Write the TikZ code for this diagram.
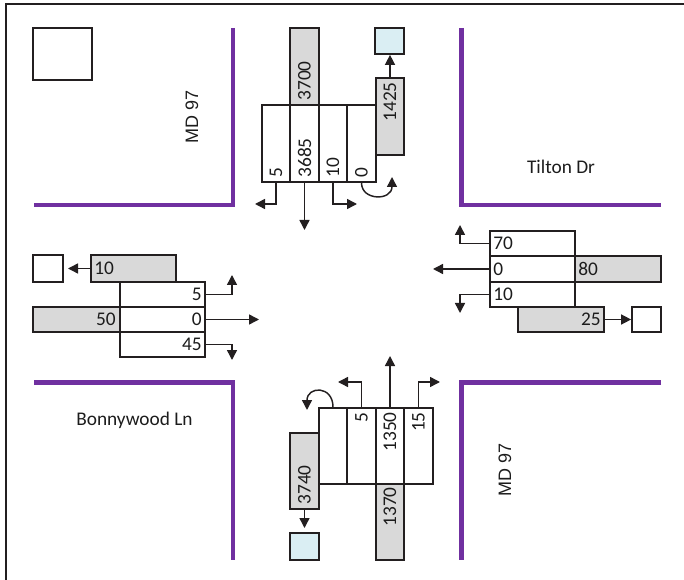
\documentclass[tikz,border=0pt]{standalone}
\usepackage{fontspec}
\setmainfont{Carlito}
\newfontfamily\arialf{Liberation Sans}
\usetikzlibrary{arrows.meta,calc,fit}
\definecolor{road}{RGB}{112,48,160}
\definecolor{gfill}{RGB}{217,217,217}
\definecolor{bfill}{RGB}{218,238,243}
\definecolor{ink}{RGB}{35,31,32}
\definecolor{txt}{RGB}{28,28,28}
\tikzset{
 lane/.style={draw=ink, line width=1.3pt, inner sep=0pt, fill=white},
 gbox/.style={lane, fill=gfill},
 bbox/.style={lane, fill=bfill},
 roadline/.style={draw=road, line width=3.4pt, line join=miter},
 arr/.style={draw=ink, line width=1.1pt, -{Triangle[length=7.5pt,width=7.5pt]}},
 num/.style={font=\fontsize{14.5}{17}\selectfont, text=txt, inner sep=0pt},
 vnum/.style={num, rotate=90},
 rdname/.style={font=\fontsize{14.5}{17}\selectfont, text=txt, inner sep=0pt},
 mdname/.style={font=\arialf\fontsize{13.5}{16}\selectfont, text=txt, inner sep=0pt, rotate=90},
}
\begin{document}
\begin{tikzpicture}[x=0.75pt,y=-0.75pt]
\useasboundingbox (0,0) rectangle (684,580);
% frame
\draw[ink, line width=1.5pt] (684,4) -- (5.5,4) -- (5.5,580);
% roads
\draw[roadline] (233,28) -- (233,205) -- (34,205);
\draw[roadline] (461.5,28) -- (461.5,205) -- (661,205);
\draw[roadline] (34,382.5) -- (233,382.5) -- (233,560);
\draw[roadline] (661,382.5) -- (461.5,382.5) -- (461.5,560);
% road names
\node[mdname] (mdN) at (192,117) {MD 97};
\node[rdname] (tilton) at (561,167) {Tilton Dr};
\node[rdname] (bonny) at (134.5,420) {Bonnywood Ln};
\node[mdname] (mdS) at (505,470) {MD 97};
% NW square
\node[lane, fit={(33,28) (92,80)}] (sqNW) {};
% ---------- North approach
\node[gbox, fit={(290,28) (319,105)}] (n3700) {};
\node[lane, fit={(262,105) (290,182)}] (nL1) {};
\node[lane, fit={(290,105) (319,182)}] (nL2) {};
\node[lane, fit={(319,105) (347,182)}] (nL3) {};
\node[lane, fit={(347,105) (376,182)}] (nL4) {};
\node[gbox, fit={(376,78) (404,155)}] (n1425) {};
\node[bbox, fit={(375,28) (404,54)}] (nOut) {};
\node[vnum, anchor=west] (t3700) at ($(n3700.south)+(0,-5)$) {3700};
\node[vnum, anchor=west] (tnL1) at ($(nL1.south)+(0,-5)$) {5};
\node[vnum, anchor=west] (tnL2) at ($(nL2.south)+(0,-5)$) {3685};
\node[vnum, anchor=west] (tnL3) at ($(nL3.south)+(0,-5)$) {10};
\node[vnum, anchor=west] (tnL4) at ($(nL4.south)+(0,-5)$) {0};
\node[vnum, anchor=east] (t1425) at ($(n1425.north)+(0,5)$) {1425};
\coordinate (nLend) at (255,204);
\coordinate (nTend) at (304.5,230);
\coordinate (nRend) at (357,204);
\coordinate (nUend) at (392,177);
\draw[arr] (nL1.south) |- (nLend);
\draw[arr] (nL2.south) -- (nTend);
\draw[arr] (nL3.south) |- (nRend);
\draw[arr] (nL4.south) .. controls +(0,18) and +(0,24) .. (nUend);
\draw[arr] (n1425.north) -- (n1425.north |- nOut.south);
% ---------- West approach
\node[lane, fit={(33,255) (63,282)}] (wOut) {};
\node[gbox, fit={(91,255) (176,282)}] (w10) {};
\node[lane, fit={(120,282) (205,307)}] (wL1) {};
\node[lane, fit={(120,307) (205,332)}] (wL2) {};
\node[lane, fit={(120,332) (205,357)}] (wL3) {};
\node[gbox, fit={(33,307) (120,332)}] (w50) {};
\node[num, anchor=west] (tw10) at ($(w10.west)+(4,0)$) {10};
\node[num, anchor=east] (tw50) at ($(w50.east)+(-5,0)$) {50};
\node[num, anchor=east] (twL1) at ($(wL1.east)+(-4,0)$) {5};
\node[num, anchor=east] (twL2) at ($(wL2.east)+(-4,0)$) {0};
\node[num, anchor=east] (twL3) at ($(wL3.east)+(-4,0)$) {45};
\coordinate (wOutTip) at (68,268.5);
\coordinate (wLend) at (232,275);
\coordinate (wTend) at (259,319.5);
\coordinate (wRend) at (232,360);
\draw[arr] (w10.west) -- (wOutTip);
\draw[arr] (wL1.east) -| (wLend);
\draw[arr] (wL2.east) -- (wTend);
\draw[arr] (wL3.east) -| (wRend);
% ---------- East approach
\node[lane, fit={(490,231) (575,256)}] (eL1) {};
\node[lane, fit={(490,256) (575,282)}] (eL2) {};
\node[lane, fit={(490,282) (575,307)}] (eL3) {};
\node[gbox, fit={(575,256) (661,282)}] (e80) {};
\node[gbox, fit={(518,307) (604,332)}] (e25) {};
\node[lane, fit={(632,307) (661,332)}] (eOut) {};
\node[num, anchor=west] (teL1) at ($(eL1.west)+(4,0)$) {70};
\node[num, anchor=west] (teL2) at ($(eL2.west)+(4,0)$) {0};
\node[num, anchor=west] (teL3) at ($(eL3.west)+(4,0)$) {10};
\node[num, anchor=west] (te80) at ($(e80.west)+(4,0)$) {80};
\node[num, anchor=east] (te25) at ($(e25.east)+(-4,0)$) {25};
\coordinate (eRend) at (460,225);
\coordinate (eTend) at (433,269);
\coordinate (eLend) at (460,313);
\draw[arr] (eL1.west) -| (eRend);
\draw[arr] (eL2.west) -- (eTend);
\draw[arr] (eL3.west) -| (eLend);
\draw[arr] (e25.east) -- (eOut.west);
% ---------- South approach
\node[lane, fit={(319,408) (347,484)}] (sL1) {};
\node[lane, fit={(347,408) (376,484)}] (sL2) {};
\node[lane, fit={(376,408) (404,484)}] (sL3) {};
\node[lane, fit={(404,408) (433,484)}] (sL4) {};
\node[gbox, fit={(290,433) (319,509)}] (s3740) {};
\node[gbox, fit={(376,484) (404,560)}] (s1370) {};
\node[bbox, fit={(290,533) (319,560)}] (sOut) {};
\node[vnum, anchor=east] (tsL2) at ($(sL2.north)+(0,5)$) {5};
\node[vnum, anchor=east] (tsL3) at ($(sL3.north)+(0,5)$) {1350};
\node[vnum, anchor=east] (tsL4) at ($(sL4.north)+(0,5)$) {15};
\node[vnum, anchor=west] (ts3740) at ($(s3740.south)+(0,-5)$) {3740};
\node[vnum, anchor=east] (ts1370) at ($(s1370.north)+(0,4)$) {1370};
\coordinate (sUend) at (307,410);
\coordinate (sLend) at (338,382);
\coordinate (sTend) at (390,356);
\coordinate (sRend) at (440,382);
\coordinate (sOutTip) at (304.5,528);
\draw[arr] (sL1.north) .. controls +(0,-22) and +(0,-24) .. (sUend);
\draw[arr] (sL2.north) |- (sLend);
\draw[arr] (sL3.north) -- (sTend);
\draw[arr] (sL4.north) |- (sRend);
\draw[arr] (s3740.south) -- (sOutTip);
\end{tikzpicture}
\end{document}
